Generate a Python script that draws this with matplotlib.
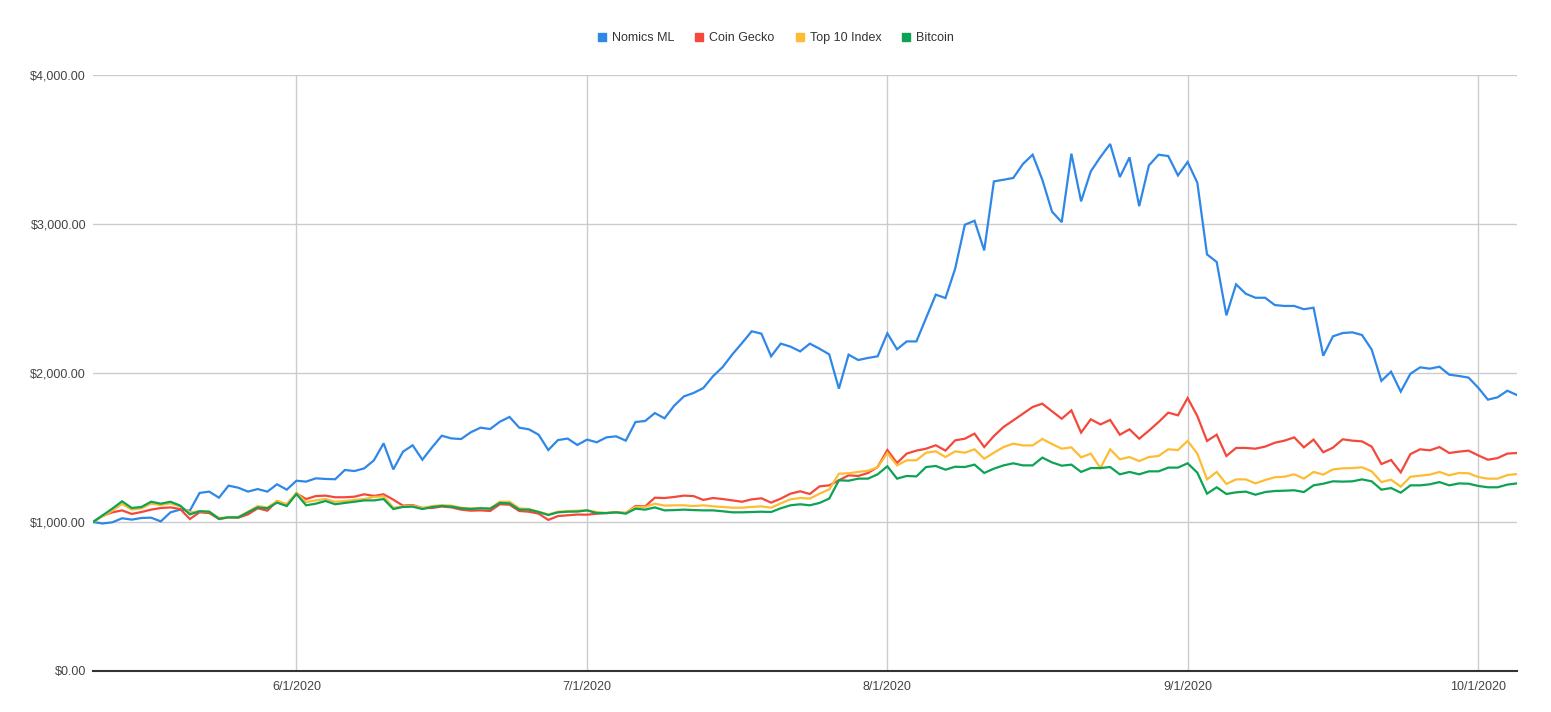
import pandas as pd
import matplotlib
matplotlib.use("Agg")
import matplotlib.pyplot as plt
from matplotlib.lines import Line2D

# data (daily values, 5/11/2020 - 10/5/2020)
dates = pd.date_range("2020-05-11", "2020-10-05", freq="D")

nomics_ml = [
    1000, 990, 998, 1025, 1016, 1027, 1029, 1004, 1065, 1083,
    1076, 1195, 1204, 1163, 1244, 1230, 1204, 1221, 1204, 1253,
    1217, 1277, 1271, 1293, 1289, 1287, 1349, 1342, 1360, 1414,
    1528, 1353, 1472, 1515, 1418, 1501, 1579, 1561, 1557, 1602,
    1633, 1624, 1673, 1705, 1633, 1622, 1586, 1483, 1550, 1560,
    1517, 1553, 1535, 1568, 1575, 1546, 1671, 1678, 1731, 1696,
    1781, 1843, 1866, 1899, 1978, 2040, 2125, 2201, 2280, 2264,
    2112, 2197, 2177, 2145, 2197, 2163, 2125, 1895, 2123, 2087,
    2101, 2112, 2266, 2159, 2212, 2212, 2369, 2526, 2503, 2700,
    2995, 3022, 2823, 3286, 3297, 3309, 3403, 3465, 3297, 3083,
    3012, 3472, 3152, 3353, 3450, 3537, 3315, 3447, 3120, 3393,
    3465, 3456, 3326, 3416, 3277, 2796, 2745, 2387, 2595, 2532,
    2505, 2505, 2456, 2450, 2450, 2428, 2438, 2116, 2246, 2268,
    2273, 2255, 2157, 1947, 2009, 1875, 1995, 2038, 2029, 2042,
    1989, 1980, 1969, 1901, 1821, 1837, 1881, 1852,
]

coin_gecko = [
    1000, 1042, 1065, 1078, 1054, 1067, 1083, 1094, 1098, 1087,
    1020, 1065, 1060, 1020, 1031, 1029, 1051, 1092, 1076, 1141,
    1114, 1192, 1154, 1174, 1177, 1166, 1166, 1170, 1186, 1175,
    1186, 1150, 1110, 1114, 1094, 1094, 1104, 1098, 1083, 1076,
    1078, 1074, 1119, 1116, 1074, 1069, 1056, 1014, 1040, 1045,
    1050, 1049, 1056, 1060, 1065, 1060, 1107, 1105, 1163, 1161,
    1168, 1177, 1174, 1148, 1161, 1154, 1145, 1136, 1152, 1159,
    1130, 1157, 1190, 1206, 1188, 1239, 1246, 1280, 1313, 1309,
    1329, 1369, 1483, 1396, 1459, 1479, 1492, 1515, 1479, 1548,
    1559, 1593, 1503, 1577, 1638, 1682, 1727, 1772, 1794, 1743,
    1693, 1749, 1600, 1689, 1655, 1685, 1586, 1622, 1559, 1613,
    1671, 1734, 1716, 1832, 1711, 1544, 1586, 1443, 1497, 1497,
    1492, 1506, 1532, 1546, 1568, 1501, 1553, 1468, 1499, 1555,
    1546, 1541, 1506, 1389, 1416, 1333, 1456, 1488, 1481, 1503,
    1463, 1472, 1479, 1447, 1418, 1429, 1459, 1463,
]

top10_index = [
    1000, 1038, 1076, 1121, 1083, 1092, 1123, 1114, 1125, 1105,
    1065, 1072, 1069, 1027, 1031, 1034, 1069, 1107, 1096, 1141,
    1121, 1195, 1134, 1145, 1154, 1136, 1141, 1148, 1154, 1168,
    1172, 1096, 1105, 1110, 1094, 1107, 1112, 1110, 1096, 1092,
    1094, 1092, 1136, 1136, 1092, 1087, 1069, 1051, 1069, 1074,
    1076, 1078, 1067, 1060, 1065, 1062, 1101, 1101, 1123, 1110,
    1112, 1112, 1107, 1112, 1105, 1101, 1096, 1096, 1101, 1105,
    1096, 1125, 1152, 1161, 1157, 1190, 1219, 1324, 1327, 1336,
    1344, 1367, 1463, 1380, 1414, 1414, 1465, 1474, 1436, 1474,
    1465, 1488, 1425, 1465, 1503, 1526, 1514, 1514, 1557, 1523,
    1492, 1501, 1434, 1459, 1362, 1488, 1421, 1436, 1409, 1436,
    1443, 1488, 1483, 1544, 1459, 1286, 1336, 1255, 1286, 1286,
    1259, 1282, 1300, 1304, 1320, 1291, 1336, 1318, 1353, 1360,
    1362, 1367, 1340, 1268, 1284, 1237, 1304, 1311, 1318, 1336,
    1313, 1329, 1327, 1302, 1291, 1291, 1315, 1322,
]

bitcoin = [
    1000, 1045, 1090, 1139, 1094, 1101, 1136, 1123, 1136, 1110,
    1051, 1072, 1069, 1022, 1031, 1031, 1065, 1098, 1092, 1130,
    1107, 1188, 1112, 1123, 1141, 1119, 1128, 1136, 1145, 1145,
    1154, 1087, 1101, 1103, 1087, 1100, 1108, 1103, 1092, 1087,
    1092, 1089, 1128, 1125, 1083, 1083, 1067, 1047, 1065, 1069,
    1070, 1078, 1060, 1060, 1065, 1056, 1089, 1083, 1098, 1078,
    1080, 1083, 1080, 1078, 1078, 1072, 1065, 1065, 1067, 1069,
    1067, 1092, 1112, 1119, 1112, 1128, 1157, 1280, 1277, 1291,
    1291, 1320, 1374, 1291, 1309, 1306, 1369, 1376, 1351, 1371,
    1369, 1385, 1329, 1358, 1380, 1394, 1380, 1380, 1432, 1400,
    1378, 1385, 1336, 1362, 1362, 1369, 1320, 1336, 1320, 1340,
    1340, 1365, 1365, 1394, 1331, 1190, 1233, 1188, 1199, 1204,
    1183, 1201, 1208, 1210, 1213, 1201, 1246, 1257, 1273, 1271,
    1273, 1286, 1273, 1217, 1228, 1197, 1246, 1246, 1253, 1268,
    1246, 1259, 1257, 1242, 1233, 1233, 1251, 1259,
]

series_names = ["Nomics ML", "Coin Gecko", "Top 10 Index", "Bitcoin"]
colors = ["#2f87e8", "#f4483b", "#fdbc33", "#0ea354"]
y_ticks = [0, 1000, 2000, 3000, 4000]
x_ticks = pd.to_datetime(["2020-06-01", "2020-07-01", "2020-08-01", "2020-09-01", "2020-10-01"])

plt.rcParams["font.family"] = ["Liberation Sans", "DejaVu Sans"]

fig = plt.figure(figsize=(15.51, 7.12), dpi=100)
ax = fig.add_axes([93 / 1551, 1 - 671 / 712, (1517 - 93) / 1551, (671 - 75) / 712])

for name, vals, c in zip(series_names, [nomics_ml, coin_gecko, top10_index, bitcoin], colors):
    ax.plot(dates, vals, color=c, lw=1.6, label=name, solid_joinstyle="miter")

ax.set_xlim(dates[0], dates[-1])
ax.set_ylim(0, 4000)
ax.set_yticks(y_ticks)
ax.set_yticklabels(["${:,.2f}".format(v) for v in y_ticks])
ax.set_xticks(x_ticks)
ax.set_xticklabels(["{}/{}/{}".format(d.month, d.day, d.year) for d in x_ticks])
ax.grid(True, color="#cccccc", lw=1)
ax.set_axisbelow(True)
for s in ["top", "right", "left"]:
    ax.spines[s].set_visible(False)
ax.spines["bottom"].set_color("#333333")
ax.spines["bottom"].set_linewidth(1.5)
ax.spines["bottom"].set_zorder(5)
ax.tick_params(length=0, labelsize=9, labelcolor="#444444")
ax.tick_params(axis="y", pad=5)
ax.tick_params(axis="x", pad=7)

handles = [Line2D([], [], ls="none", marker="s", markersize=6, color=c) for c in colors]
fig.legend(handles, series_names, loc="center", bbox_to_anchor=(0.5, 1 - 38 / 712),
           ncol=4, frameon=False, fontsize=9, handlelength=0.8, handletextpad=0.4,
           columnspacing=1.6, labelcolor="#333333")

fig.savefig("out.png", dpi=100)
